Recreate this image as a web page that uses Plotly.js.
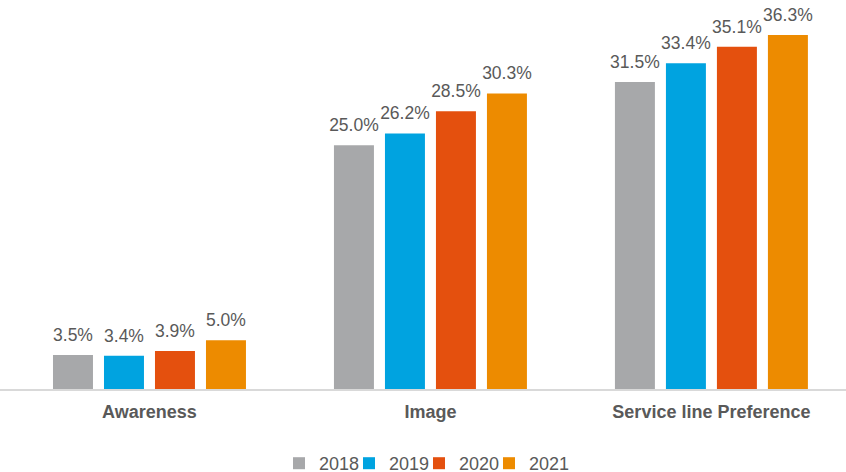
<!DOCTYPE html>
<html>
<head>
<meta charset="utf-8">
<script src="https://cdn.plot.ly/plotly-3.0.1.min.js"></script>
<style>html,body{margin:0;padding:0;background:#fff;overflow:hidden;}#chart{width:846px;height:482px;}</style>
</head>
<body>
<div id="chart"></div>
<script>
const categories = ["Awareness", "Image", "Service line Preference"];
const years = ["2018", "2019", "2020", "2021"];
const v2018 = [3.5, 25.0, 31.5];
const v2019 = [3.4, 26.2, 33.4];
const v2020 = [3.9, 28.5, 35.1];
const v2021 = [5.0, 30.3, 36.3];
const colors = ["#A7A8AA", "#00A3E0", "#E4500E", "#ED8B00"];

const FONT = "Arial, Liberation Sans, sans-serif";
const series = [v2018, v2019, v2020, v2021];
const legendIds = ["legend", "legend2", "legend3", "legend4"];

const bars = series.map((vals, i) => ({
  type: "bar",
  name: years[i],
  x: categories,
  y: vals,
  marker: {color: colors[i]},
  offsetgroup: String(i),
  legend: legendIds[i],
  hoverinfo: "skip"
}));

const labels = series.map((vals, i) => ({
  type: "scatter",
  mode: "markers+text",
  name: years[i] + " labels",
  x: categories,
  y: vals,
  offsetgroup: String(i),
  marker: {size: 14, opacity: 0, color: colors[i]},
  texttemplate: "%{y:.1f}%",
  textposition: "top center",
  textfont: {family: FONT, size: 17.5, color: "#595959"},
  cliponaxis: false,
  showlegend: false,
  hoverinfo: "skip"
}));

const legendBase = {
  orientation: "h",
  xanchor: "left",
  yref: "container",
  y: 0,
  yanchor: "bottom",
  font: {family: FONT, size: 18, color: "#595959"},
  itemwidth: 30,
  bgcolor: "rgba(0,0,0,0)"
};

const layout = {
  width: 846,
  height: 482,
  margin: {l: 0, r: 0, t: 0, b: 93},
  paper_bgcolor: "#ffffff",
  plot_bgcolor: "#ffffff",
  barmode: "group",
  bargap: 0.274,
  bargroupgap: 0.216,
  scattermode: "group",
  scattergap: 0.274,
  font: {family: FONT, color: "#595959"},
  xaxis: {
    type: "category",
    range: [-0.532, 2.479],
    showline: true,
    linecolor: "#D9D9D9",
    linewidth: 1.5,
    ticks: "outside",
    ticklen: 6,
    tickcolor: "rgba(0,0,0,0)",
    tickfont: {family: FONT, size: 18, color: "#595959", weight: "bold"},
    fixedrange: true
  },
  yaxis: {
    range: [0, 39.9],
    visible: false,
    showgrid: false,
    zeroline: false,
    fixedrange: true
  },
  showlegend: true
};
legendIds.forEach((id, i) => {
  layout[id] = Object.assign({}, legendBase, {x: (279 + 70 * i) / 846});
});

Plotly.newPlot("chart", bars.concat(labels), layout, {displayModeBar: false, staticPlot: true});
</script>
</body>
</html>
